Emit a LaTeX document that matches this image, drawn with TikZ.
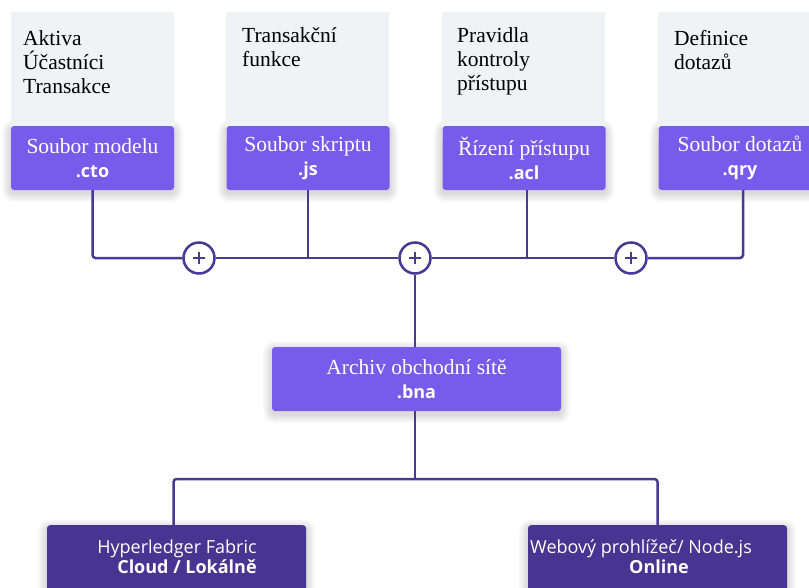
\documentclass[tikz,border=0pt]{standalone}
\usepackage{fontspec}
\setmainfont{Liberation Serif}
\newfontfamily\osans{Open Sans}[BoldFont={Open Sans Bold}, ItalicFont={Open Sans Italic}]
\newcommand\extf{\osans\bfseries\upshape\fontsize{18}{24}\selectfont}
\definecolor{pv}{RGB}{118,92,235}
\definecolor{dp}{RGB}{70,53,145}
\definecolor{ln}{RGB}{72,58,148}
\definecolor{gr}{RGB}{240,242,245}
\pgfdeclarelayer{bg}
\pgfsetlayers{bg,main}
\newcommand\softsh[1]{%
  \foreach \k in {1,...,9}{%
    \pgfmathsetmacro\rr{3+\k}%
    \fill[black, opacity=0.016, rounded corners=\rr pt]
      ([xshift=-\k pt, yshift=-\k pt-3pt]#1.south west) rectangle ([xshift=\k pt, yshift=\k pt-3pt]#1.north east);}}
\begin{document}
\begin{tikzpicture}[x=1pt,y=-1pt,
  greybox/.style={fill=gr, rounded corners=2pt, minimum width=163pt, minimum height=130pt, inner sep=0pt, anchor=north west},
  greytext/.style={anchor=base west, align=left, inner sep=0pt, font=\fontsize{21.5}{24}\selectfont, text=black},
  filebox/.style={fill=pv, rounded corners=3pt, minimum width=163pt, minimum height=64pt, inner sep=0pt, text=white, align=center, font=\fontsize{21.5}{24}\selectfont},
  envbox/.style={fill=dp, rounded corners=3pt, minimum width=259pt, minimum height=80pt, inner sep=0pt, anchor=north},
  envtext/.style={anchor=base, align=center, inner sep=0pt, text=white, font=\osans\fontsize{18}{20}\selectfont},
  conn/.style={draw=ln, line width=2.5pt},
  plusnode/.style={circle, draw=ln, line width=2.5pt, fill=white, minimum size=31pt, inner sep=0pt,
    path picture={\draw[ln, line width=2pt] ([xshift=-6pt]path picture bounding box.center) -- ([xshift=6pt]path picture bounding box.center);
                  \draw[ln, line width=2pt] ([yshift=-6pt]path picture bounding box.center) -- ([yshift=6pt]path picture bounding box.center);}}
]
\useasboundingbox (0,0) rectangle (809,587);

% grey description boxes
\node[greybox] (g1) at (11,12) {};
\node[greybox] (g2) at (226,12) {};
\node[greybox] (g3) at (442,12) {};
\node[greybox] (g4) at (658,12) {};
\node[greytext] (t1) at (23,93) {Aktiva\\Účastníci\\Transakce};
\node[greytext] (t2) at (242,66) {Transakční\\funkce};
\node[greytext] (t3) at (457,90) {Pravidla\\kontroly\\přístupu};
\node[greytext] (t4) at (674,69) {Definice\\dotazů};

% file boxes
\node[filebox] (f1) at (92.5,158) {Soubor modelu\\{\extf .cto}};
\node[filebox] (f2) at (308,158) {Soubor skriptu\\{\extf .js}};
\node[filebox] (f3) at (524,158) {Řízení přístupu\\{\extf .acl}};
\node[filebox] (f4) at (740,158) {Soubor dotazů\\{\extf .qry}};

% plus circles
\node[plusnode] (c1) at (199,258) {};
\node[plusnode] (c2) at (415,258) {};
\node[plusnode] (c3) at (631,258) {};

% archive
\node[filebox, minimum width=289pt] (ar) at (416.5,379) {Archiv obchodní sítě\\{\extf .bna}};

% environments
\node[envbox] (hf) at (176.5,525) {};
\node[envbox] (wb) at (657.5,525) {};
\node[envtext] (hft) at (177,553) {Hyperledger Fabric};
\node[envtext] (hfb) at (187,573) {\bfseries Cloud / Lokálně};
\node[envtext, anchor=base west] (wbt) at (530,553) {Webový prohlížeč/ Node.js};
\node[envtext] (wbb) at (659,573) {\bfseries Online};

\begin{pgfonlayer}{bg}
  \fill[white] (0,0) rectangle (809,587);
  \softsh{f1}\softsh{f2}\softsh{f3}\softsh{f4}
  \softsh{ar}\softsh{hf}\softsh{wb}
\end{pgfonlayer}

\coordinate (jb) at (415,479);

% connectors
\draw[conn, rounded corners=3pt] (f1.south) |- (c1.west);
\draw[conn] (c1.east) -- (c2.west);
\draw[conn] (c2.east) -- (c3.west);
\draw[conn, rounded corners=3pt] (c3.east) -| ([xshift=3pt]f4.south);
\draw[conn] (f2.south) -- (f2.south |- c1.center);
\draw[conn] ([xshift=3pt]f3.south) -- ([xshift=3pt]f3.south |- c1.center);
\draw[conn] (c2.south) -- (c2.south |- ar.north);
\draw[conn] (c2.south |- ar.south) -- (jb);
\draw[conn, rounded corners=3pt] ([xshift=-3pt]hf.north) |- (jb) -| (wb.north);
\end{tikzpicture}
\end{document}
